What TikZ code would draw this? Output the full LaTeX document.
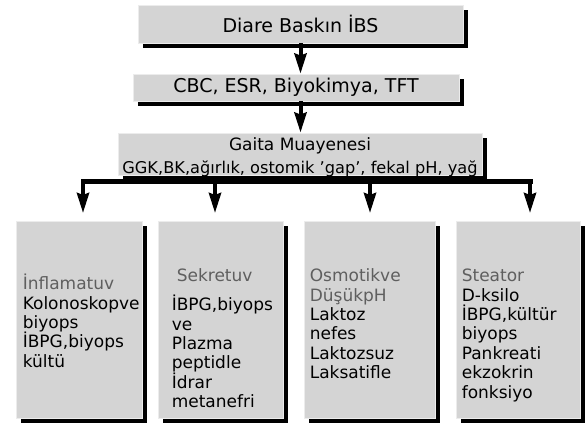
\documentclass[tikz,border=0pt]{standalone}
\usepackage{fontspec}
\setmainfont{DejaVu Sans}
\usetikzlibrary{shadows,arrows.meta,calc}
\definecolor{kutugri}{RGB}{212,212,212}
\definecolor{kenargri}{RGB}{236,236,236}
\definecolor{baslikgri}{RGB}{95,95,95}
\begin{document}
\begin{tikzpicture}[x=1pt,y=-1pt,
  kutu/.style={fill=kutugri,draw=kenargri,line width=0.8pt,inner sep=0pt,
    general shadow={fill=black,shadow xshift=5pt,shadow yshift=-5pt}},
  yazi/.style={inner sep=0pt,anchor=base west,align=left,
    font=\fontsize{17}{19.4}\selectfont},
  ok/.style={line width=4pt,-{Stealth[length=20pt,width=12pt,inset=2pt]}},
  hat/.style={line width=5pt,line cap=rect}]
\lineskiplimit=-20pt
\useasboundingbox (0,0) rectangle (587,423);
\node[kutu,minimum width=325pt,minimum height=38pt,font=\fontsize{19}{22}\selectfont] (tani) at (300.5,24) {Diare Baskın İBS};
\node[kutu,minimum width=326pt,minimum height=27pt,font=\fontsize{19}{22}\selectfont] (tetkik) at (296,87.5) {CBC, ESR, Biyokimya, TFT};
\node[kutu,minimum width=364pt,minimum height=42pt] (gaita) at (300,154) {};
\node[inner sep=0pt,anchor=base,align=center,font=\fontsize{17}{23}\selectfont] (gaitayazi) at ($(gaita.south)+(0,-2)$) {Gaita Muayenesi\\{\fontsize{16.2}{23}\selectfont GGK,BK,ağırlık, ostomik 'gap', fekal pH, yağ}};
\node[kutu,minimum width=126pt,minimum height=197pt] (inf) at (79,319.5) {};
\node[kutu,minimum width=125pt,minimum height=197pt] (sek) at (220.5,319.5) {};
\node[kutu,minimum width=131pt,minimum height=197pt] (osm) at (369.5,319.5) {};
\node[kutu,minimum width=124pt,minimum height=197pt] (ste) at (518,319.5) {};
\node[yazi] (infyazi) at ($(inf.north west)+(7,146.6)$) {\textcolor{baslikgri}{İnflamatuv}\\Kolonoskopve\\biyops\\İBPG,biyops\\kültü};
\node[yazi] (sekyazi) at ($(sek.north west)+(14,187)$) {\hspace*{5pt}\textcolor{baslikgri}{Sekretuv}\\[9.6pt]İBPG,biyops\\ve\\Plazma\\peptidle\\İdrar\\metanefri};
\node[yazi] (osmyazi) at ($(osm.north west)+(6,158)$) {\textcolor{baslikgri}{Osmotikve}\\\textcolor{baslikgri}{DüşükpH}\\Laktoz\\nefes\\Laktozsuz\\Laksatifle};
\node[yazi] (steyazi) at ($(ste.north west)+(6,177.4)$) {\textcolor{baslikgri}{Steator}\\D-ksilo\\İBPG,kültür\\biyops\\Pankreati\\ekzokrin\\fonksiyo};
\coordinate (hatlar) at (300,181);
\coordinate (uA) at (83,213);
\coordinate (uB) at (215,213);
\coordinate (uC) at (370,213);
\coordinate (uD) at (530,213);
\draw[ok] (tani.south) -- (tani.south |- tetkik.north);
\draw[ok] (tani.south |- tetkik.south) -- (tani.south |- gaita.north);
\draw[hat] (uA |- hatlar) -- (uD |- hatlar);
\foreach \u in {uA,uB,uC,uD}
  \draw[ok] (\u |- hatlar) -- (\u);
\end{tikzpicture}
\end{document}
